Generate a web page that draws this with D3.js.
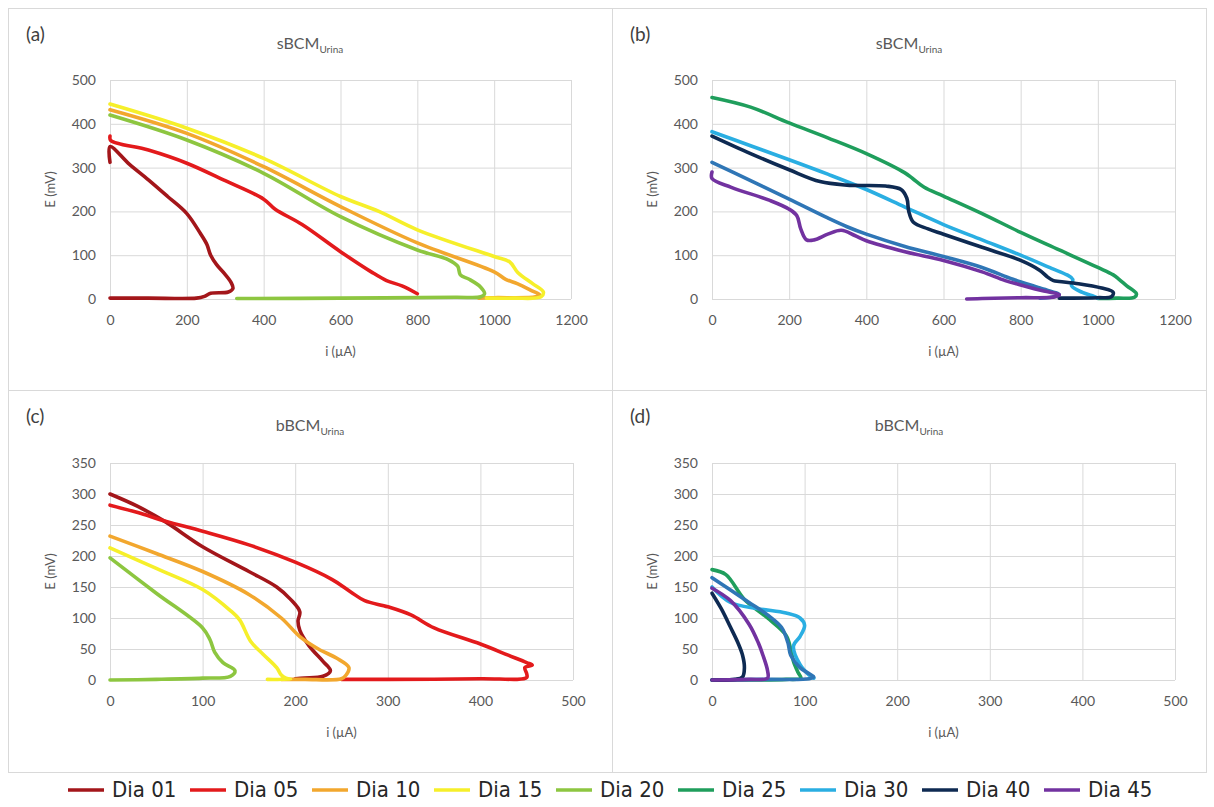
<!DOCTYPE html>
<html>
<head>
<meta charset="utf-8">
<script src="https://cdn.jsdelivr.net/npm/d3@7"></script>
<style>
  body { margin: 0; background: #fff; }
  svg { display: block; font-family: Lato, "Open Sans", sans-serif; }
</style>
</head>
<body>
<svg id="fig" width="1214" height="807"></svg>
<script>
// ---- data (i in µA, E in mV) ----
const dayNames = ["Dia 01", "Dia 05", "Dia 10", "Dia 15", "Dia 20", "Dia 25", "Dia 30", "Dia 40", "Dia 45"];
const dayColors = ["#a3161a", "#e31a1c", "#f2a72e", "#f6ef2a", "#8dc640", "#1f9e5c", "#2aaee2", "#0e2a52", "#7232a0"];
const extraColor = "#2f76b6"; // unlabelled series in (b) and (d)

// (a) sBCM
const a01 = [[0,312],[0,348],[50,308],[100,272],[150,234],[200,195],[235,150],[252,125],[262,100],[278,78],[298,58],[315,38],[320,24],[308,16],[262,13],[246,6],[225,2],[100,2],[0,2]];
const a05 = [[0,372],[2,362],[100,340],[200,310],[300,270],[400,228],[430,205],[500,170],[600,108],[680,62],[720,42],[760,30],[800,12]];
const a10 = [[0,432],[200,378],[400,302],[600,211],[800,128],[1000,62],[1030,45],[1060,35],[1100,18],[1118,10],[1108,5],[1000,3],[960,2]];
const a15 = [[0,445],[200,390],[400,321],[600,234],[700,200],[800,158],[1000,97],[1040,85],[1062,60],[1100,35],[1128,16],[1122,5],[1050,2],[980,2]];
const a20 = [[0,420],[200,363],[400,287],[600,188],[800,112],[880,90],[905,75],[912,55],[935,45],[965,27],[975,12],[965,5],[900,4],[600,2],[330,1]];

// (b) sBCM
const b25 = [[0,460],[100,438],[200,402],[300,368],[400,332],[500,288],[520,275],[550,255],[600,235],[700,195],[800,152],[900,112],[1000,72],[1040,55],[1055,45],[1075,30],[1100,12],[1095,4],[1050,2],[1000,1]];
const b30 = [[0,382],[100,350],[200,318],[300,285],[400,250],[500,210],[600,170],[700,135],[800,100],[880,70],[920,55],[935,45],[932,30],[960,15],[990,6],[1000,2]];
const bXx = [[0,312],[100,270],[200,228],[300,185],[350,165],[400,148],[500,120],[600,97],[700,72],[780,45],[850,25],[900,10],[880,4],[850,2]];
const b40 = [[0,372],[100,332],[200,295],[280,268],[350,260],[450,258],[490,250],[505,230],[510,200],[522,175],[560,160],[600,148],[700,118],[800,88],[850,65],[870,50],[885,42],[900,40],[950,35],[1010,25],[1040,15],[1035,5],[1000,3],[900,2]];
const b45 = [[0,290],[0,275],[50,255],[150,225],[200,205],[220,190],[230,160],[245,135],[265,135],[300,148],[335,157],[370,145],[400,133],[500,108],[600,88],[700,62],[760,42],[800,32],[860,18],[900,10],[890,5],[800,3],[700,1],[660,0]];

// (c) bBCM
const c01 = [[0,300],[30,280],[60,255],[100,215],[150,175],[180,150],[195,130],[205,110],[203,95],[205,80],[215,55],[230,30],[238,15],[230,6],[210,3],[200,2]];
const c05 = [[0,282],[30,270],[60,256],[100,240],[150,218],[200,190],[240,162],[260,142],[275,128],[300,118],[325,105],[350,84],[400,58],[430,40],[450,28],[456,24],[448,20],[450,10],[450,4],[400,2],[300,1],[250,1]];
const c10 = [[0,232],[50,204],[100,175],[150,138],[185,100],[205,70],[225,50],[245,35],[258,20],[255,8],[250,2],[210,1],[185,1]];
const c15 = [[0,213],[50,180],[100,146],[130,112],[140,97],[152,62],[165,42],[180,20],[185,8],[190,3],[195,1],[170,1]];
const c20 = [[0,197],[50,140],[100,84],[108,65],[113,45],[122,28],[135,15],[130,6],[100,3],[50,1],[0,0]];

// (d) bBCM
const d25 = [[0,178],[15,170],[35,130],[60,100],[80,72],[85,50],[88,30],[93,12],[96,3],[80,1],[0,0]];
const d30 = [[0,150],[20,125],[50,115],[80,108],[95,100],[100,88],[95,70],[88,55],[95,25],[105,8],[110,3]];
const dXx = [[0,165],[20,145],[40,125],[60,105],[75,85],[82,60],[85,40],[95,20],[105,10],[110,5],[105,2],[60,1],[0,0]];
const d40 = [[0,140],[10,115],[20,85],[28,60],[33,40],[35,20],[33,5],[25,1],[0,0]];
const d45 = [[0,148],[20,128],[40,90],[50,60],[55,40],[60,15],[60,3],[40,1],[0,0]];

const xTicksTop = [0, 200, 400, 600, 800, 1000, 1200];
const yTicksTop = [0, 100, 200, 300, 400, 500];
const xTicksBottom = [0, 100, 200, 300, 400, 500];
const yTicksBottom = [0, 50, 100, 150, 200, 250, 300, 350];

const panels = [
  { tag: "(a)", title: "sBCM", cell: [8, 8, 604, 382], plot: [110, 80, 461, 219], xTicks: xTicksTop, yTicks: yTicksTop,
    series: [[a01, 0], [a05, 1], [a10, 2], [a15, 3], [a20, 4]] },
  { tag: "(b)", title: "sBCM", cell: [612, 8, 594, 382], plot: [712, 80, 463, 219], xTicks: xTicksTop, yTicks: yTicksTop,
    series: [[b25, 5], [b30, 6], [bXx, -1], [b40, 7], [b45, 8]] },
  { tag: "(c)", title: "bBCM", cell: [8, 390, 604, 382], plot: [110, 463, 463, 217], xTicks: xTicksBottom, yTicks: yTicksBottom,
    series: [[c01, 0], [c05, 1], [c10, 2], [c15, 3], [c20, 4]] },
  { tag: "(d)", title: "bBCM", cell: [612, 390, 594, 382], plot: [712, 463, 463, 217], xTicks: xTicksBottom, yTicks: yTicksBottom,
    series: [[d25, 5], [d30, 6], [dXx, -1], [d40, 7], [d45, 8]] }
];

const svg = d3.select("#fig");
const grid = "#d9d9d9", textCol = "#595959";

panels.forEach(p => {
  const [cx, cy, cw, ch] = p.cell;
  svg.append("rect").attr("x", cx + 0.5).attr("y", cy + 0.5).attr("width", cw).attr("height", ch)
    .attr("fill", "none").attr("stroke", grid);

  const [px, py, pw, ph] = p.plot;
  const x = d3.scaleLinear().domain([0, d3.max(p.xTicks)]).range([px, px + pw]);
  const y = d3.scaleLinear().domain([0, d3.max(p.yTicks)]).range([py + ph, py]);

  // grid + tick labels via axes
  const gx = svg.append("g").attr("transform", `translate(0,${py + ph})`)
    .call(d3.axisBottom(x).tickValues(p.xTicks).tickFormat(d3.format("d")).tickSize(-ph).tickPadding(16));
  const gy = svg.append("g").attr("transform", `translate(${px},0)`)
    .call(d3.axisLeft(y).tickValues(p.yTicks).tickFormat(d3.format("d")).tickSize(-pw).tickPadding(14));
  [gx, gy].forEach(g => {
    g.select(".domain").remove();
    g.selectAll("line").attr("stroke", grid);
    g.selectAll("text").attr("fill", textCol).attr("font-size", 14).attr("font-family", "Lato, sans-serif");
  });

  // tag and title
  svg.append("text").attr("x", cx + 18).attr("y", cy + 33).attr("font-size", 19).attr("fill", "#404040").text(p.tag);
  const t = svg.append("text").attr("x", cx + cw / 2).attr("y", cy + 41).attr("text-anchor", "middle")
    .attr("font-size", 16).attr("fill", textCol);
  t.append("tspan").text(p.title);
  t.append("tspan").attr("font-size", 10).attr("dy", 4).text("Urina");

  svg.append("text").attr("transform", `translate(${px - 55},${py + ph / 2}) rotate(-90)`)
    .attr("text-anchor", "middle").attr("font-size", 13).attr("fill", textCol).text("E (mV)");
  svg.append("text").attr("x", px + pw / 2).attr("y", py + ph + 57)
    .attr("text-anchor", "middle").attr("font-size", 13).attr("fill", textCol).text("i (µA)");

  const line = d3.line().x(d => x(d[0])).y(d => y(d[1])).curve(d3.curveCatmullRom.alpha(0.5));
  p.series.forEach(([pts, k]) => {
    svg.append("path").attr("d", line(pts)).attr("fill", "none")
      .attr("stroke", k < 0 ? extraColor : dayColors[k]).attr("stroke-width", 3.6)
      .attr("stroke-linejoin", "round").attr("stroke-linecap", "round");
  });
});

// legend
const leg = svg.append("g").attr("transform", "translate(68,797)");
dayNames.forEach((n, k) => {
  const g = leg.append("g").attr("transform", `translate(${k * 122},0)`);
  g.append("line").attr("x1", 0).attr("x2", 36).attr("y1", -7).attr("y2", -7)
    .attr("stroke", dayColors[k]).attr("stroke-width", 3.5);
  g.append("text").attr("x", 44).attr("y", 0).attr("font-size", 22)
    .attr("font-family", "'DejaVu Sans Condensed', 'DejaVu Sans', sans-serif").attr("font-stretch", "condensed")
    .attr("fill", "#262626").text(n);
});
</script>
</body>
</html>
